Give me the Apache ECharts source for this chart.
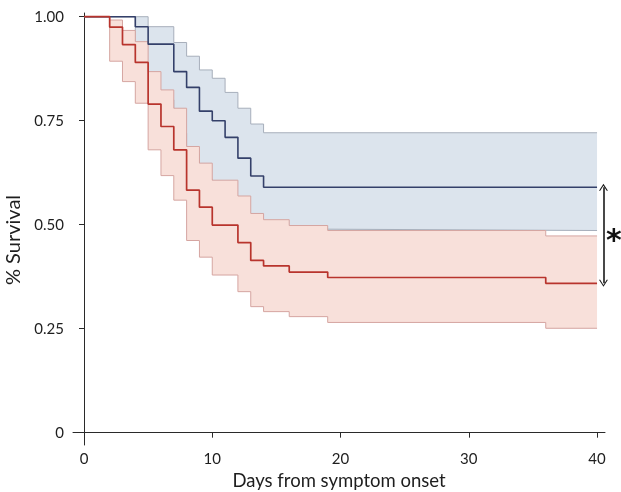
<!DOCTYPE html>
<html>
<head>
<meta charset="utf-8">
<script src="https://cdn.jsdelivr.net/npm/echarts@6/dist/echarts.min.js"></script>
<style>
html,body{margin:0;padding:0;background:#fff;}
#chart{width:621px;height:492px;}
</style>
</head>
<body>
<div id="chart"></div>
<script>
// ---- Data ----
const xTicks = [0, 10, 20, 30, 40];
const yTicks = [0, 0.25, 0.5, 0.75, 1.0];

// Red group (Kaplan-Meier estimate and 95% CI)
const redTimes = [0, 2, 3, 4, 5, 6, 7, 8, 9, 10, 12, 13, 14, 16, 19, 36, 40];
const redSurv  = [1.0, 0.975, 0.933, 0.890, 0.790, 0.736, 0.680, 0.583, 0.542, 0.499, 0.457, 0.414, 0.401, 0.386, 0.373, 0.359, 0.359];
const redUpper = [1.0, 0.992, 0.967, 0.940, 0.868, 0.824, 0.780, 0.688, 0.648, 0.607, 0.569, 0.527, 0.512, 0.498, 0.486, 0.473, 0.473];
const redLower = [1.0, 0.893, 0.844, 0.792, 0.680, 0.618, 0.559, 0.462, 0.422, 0.379, 0.339, 0.303, 0.291, 0.279, 0.265, 0.251, 0.251];

// Blue group (Kaplan-Meier estimate and 95% CI)
const blueTimes = [0, 4, 5, 7, 8, 9, 10, 11, 12, 13, 14, 40];
const blueSurv  = [1.0, 0.976, 0.934, 0.868, 0.830, 0.773, 0.750, 0.710, 0.660, 0.617, 0.590, 0.590];
const blueUpper = [1.0, 1.0, 0.976, 0.938, 0.905, 0.872, 0.852, 0.818, 0.780, 0.742, 0.721, 0.721];
const blueLower = [1.0, 0.85, 0.80, 0.72, 0.67, 0.61, 0.585, 0.545, 0.50, 0.49, 0.486, 0.486];

// ---- Styling ----
const RED = '#b8342d', BLUE = '#34406a';
const RED_FILL = '#f8e0da', BLUE_FILL = '#dce4ed';
const RED_EDGE = '#d5a5a1', BLUE_EDGE = '#a7afbb';
const FONT = 'Lato';

function pairs(t, v) { return t.map((x, i) => [x, v[i]]); }

function bandSeries(times, lo, hi, fill, z) {
  return {
    type: 'custom', z: z, silent: true,
    data: [[times[0], hi[0]]],
    renderItem: function (params, api) {
      const pts = [];
      for (let i = 0; i < times.length - 1; i++) {
        pts.push(api.coord([times[i], hi[i]]));
        pts.push(api.coord([times[i + 1], hi[i]]));
      }
      for (let i = times.length - 2; i >= 0; i--) {
        pts.push(api.coord([times[i + 1], lo[i]]));
        pts.push(api.coord([times[i], lo[i]]));
      }
      return { type: 'polygon', shape: { points: pts }, style: { fill: fill, stroke: null } };
    }
  };
}

function stepLine(times, vals, color, width, z) {
  return {
    type: 'line', step: 'end', z: z, silent: true,
    symbol: 'none', data: pairs(times, vals),
    lineStyle: { color: color, width: width }
  };
}

const chart = echarts.init(document.getElementById('chart'));
const arrowSym = 'path://M0,10 L5,0 L10,10 L8.6,10 L5,2.8 L1.4,10 Z';

const redKM = stepLine(redTimes, redSurv, RED, 1.7, 10);
redKM.clip = false;
redKM.markLine = {
  silent: true,
  symbol: [arrowSym, arrowSym],
  symbolSize: [9, 7],
  label: { show: false },
  lineStyle: { color: '#1a1a1a', width: 1.6, type: 'solid' },
  data: [[
    { coord: [40.5, blueSurv[blueSurv.length - 1]] },
    { coord: [40.5, redSurv[redSurv.length - 1]] }
  ]]
};

chart.setOption({
  animation: false,
  backgroundColor: '#ffffff',
  grid: { left: 73, right: 16, top: 13, bottom: 47, containLabel: false, outerBoundsMode: 'none' },
  xAxis: {
    type: 'value', min: -0.858, max: 40.62,
    splitLine: { show: false },
    axisLine: { show: true, lineStyle: { color: '#2a2a2a', width: 1 } },
    axisTick: { show: true, customValues: xTicks, length: 5, lineStyle: { color: '#2a2a2a' } },
    axisLabel: { customValues: xTicks, color: '#1e1e1e', fontSize: 15, fontFamily: FONT, margin: 7 },
    name: 'Days from symptom onset', nameLocation: 'middle', nameGap: 25,
    nameTextStyle: { color: '#1e1e1e', fontSize: 18.5, fontFamily: FONT }
  },
  yAxis: {
    type: 'value', min: -0.0296, max: 1.0089,
    splitLine: { show: false },
    axisLine: { show: true, lineStyle: { color: '#2a2a2a', width: 1 } },
    axisTick: { show: true, customValues: yTicks, length: 5, lineStyle: { color: '#2a2a2a' } },
    axisLabel: {
      customValues: yTicks, color: '#1e1e1e', fontSize: 15, fontFamily: FONT, margin: 9,
      formatter: v => (v === 0 ? '0' : v.toFixed(2))
    },
    name: '% Survival', nameLocation: 'middle', nameGap: 42, nameRotate: 90,
    nameTextStyle: { color: '#1e1e1e', fontSize: 20, fontFamily: FONT, padding: [0, 22, 0, 0] }
  },
  graphic: [{
    type: 'text', left: 606, top: 227, silent: true,
    style: { text: '*', font: 'bold 30px "DejaVu Sans"', fill: '#111' }
  }],
  series: [
    bandSeries(blueTimes, blueLower, blueUpper, BLUE_FILL, 1),
    stepLine(blueTimes, blueUpper, BLUE_EDGE, 1, 2),
    stepLine(blueTimes, blueLower, BLUE_EDGE, 1, 2),
    bandSeries(redTimes, redLower, redUpper, RED_FILL, 3),
    stepLine(redTimes, redUpper, RED_EDGE, 1, 4),
    stepLine(redTimes, redLower, RED_EDGE, 1, 4),
    stepLine(blueTimes, blueSurv, BLUE, 1.6, 9),
    redKM
  ]
});
</script>
</body>
</html>
